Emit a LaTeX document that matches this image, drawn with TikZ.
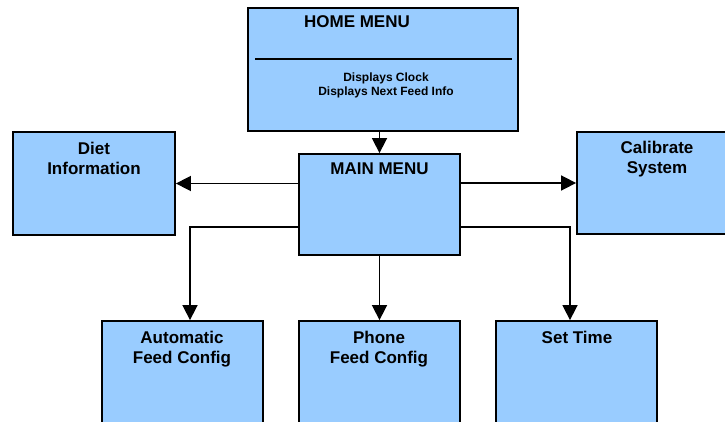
\documentclass[tikz,border=0pt]{standalone}
\usepackage{fontspec}
\setmainfont{Liberation Sans}
\usetikzlibrary{arrows.meta,calc}
\definecolor{boxblue}{HTML}{99CCFF}
\begin{document}
\begin{tikzpicture}[x=1pt,y=-1pt,
  menubox/.style={draw=black,line width=1.8pt,fill=boxblue,inner sep=0pt,
    minimum width=#1,anchor=center},
  title/.style={font=\fontsize{17}{20}\selectfont\bfseries,align=center,
    inner sep=0pt,anchor=north},
  info/.style={font=\fontsize{12}{14}\selectfont\bfseries,align=center,
    inner sep=0pt,anchor=north},
  link/.style={draw=black,line width=1.6pt,-{Triangle[length=15pt,width=15pt]}}]
\clip (0,0) rectangle (725,422);

% boxes
\node[menubox=270pt,minimum height=123pt] (home) at (383,69.5) {};
\node[menubox=161pt,minimum height=101pt] (main) at (379.5,204.5) {};
\node[menubox=162pt,minimum height=103pt] (diet) at (94,183.5) {};
\node[menubox=162pt,minimum height=102pt] (calib) at (658,183) {};
\node[menubox=161pt,minimum height=129pt] (auto) at (182.5,385.5) {};
\node[menubox=161pt,minimum height=129pt] (phone) at (379.5,385.5) {};
\node[menubox=161pt,minimum height=129pt] (settime) at (576.5,385.5) {};

% divider inside the home menu
\draw[line width=1.4pt] (255,59) -- (512,59);

% texts
\node[title] (hometitle) at (357,15) {HOME MENU};
\node[info] (homeinfo) at (386,72.5) {Displays Clock\\Displays Next Feed Info};
\node[title] (maintitle) at (379.5,163) {MAIN MENU};
\node[title] (diettitle) at (94,141.5) {Diet\\Information};
\node[title] (calibtitle) at (657,140.5) {Calibrate\\System};
\node[title] (autotitle) at (182,331) {Automatic\\Feed Config};
\node[title] (phonetitle) at (379,331) {Phone\\Feed Config};
\node[title] (settimetitle) at (577,330.5) {Set Time};

% connectors
\draw[link] (main.north |- home.south) -- (main.north);
\draw[link] (main.west |- diet.east) -- (diet.east);
\draw[link] (main.east |- calib.west) -- (calib.west);
\draw[link] ([yshift=-22.5pt]main.west) -| ([xshift=7.5pt]auto.north);
\draw[link] (main.south) -- (phone.north);
\draw[link] ([yshift=-22.5pt]main.east) -| ([xshift=-6.5pt]settime.north);
\end{tikzpicture}
\end{document}
